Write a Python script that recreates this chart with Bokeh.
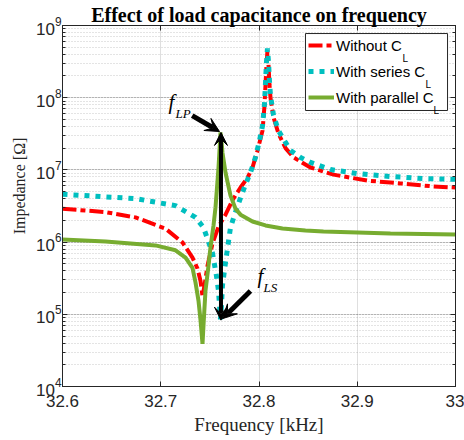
from bokeh.plotting import figure
from bokeh.models import (Range1d, FixedTicker, LogTicker, LinearAxis, LogAxis, Label,
                          Arrow, VeeHead, Legend, LegendItem, BoxAnnotation)
from bokeh.embed import file_html
from bokeh.resources import INLINE

# ---- data ----
freq_without = [32.6000, 32.6438, 32.6743, 32.7048, 32.7221, 32.7323, 32.7374, 32.7405, 32.7425,
                32.7445, 32.7476, 32.7527, 32.7588, 32.7659, 32.7730, 32.7812, 32.7883, 32.7934,
                32.7985, 32.8036, 32.8056, 32.8066, 32.8076, 32.8086, 32.8097, 32.8107, 32.8117,
                32.8148, 32.8198, 32.8270, 32.8351, 32.8524, 32.8758, 32.9104, 32.9440, 32.9776, 33.0000]
z_without = [2.9e6, 2.6e6, 2.2e6, 1.54e6, 9.9e5, 6.1e5, 4.3e5, 2.9e5, 1.77e5,
             2.5e5, 4.7e5, 9.6e5, 1.64e6, 2.4e6, 3.8e6, 5.7e6, 7.8e6, 1.08e7,
             1.86e7, 3.5e7, 7.8e7, 1.5e8, 2.8e8, 4.5e8, 2.8e8, 1.5e8, 1.0e8,
             5.3e7, 3.2e7, 2.0e7, 1.49e7, 1.08e7, 8.6e6, 7.1e6, 6.5e6, 5.9e6, 5.7e6]

freq_series = [32.6000, 32.6743, 32.7150, 32.7354, 32.7435, 32.7527, 32.7567, 32.7588, 32.7598,
               32.7608, 32.7618, 32.7628, 32.7659, 32.7710, 32.7761, 32.7812, 32.7863, 32.7913,
               32.7964, 32.8005, 32.8036, 32.8056, 32.8066, 32.8076, 32.8086, 32.8097, 32.8107,
               32.8117, 32.8148, 32.8198, 32.8270, 32.8321, 32.8422, 32.8524, 32.8728, 32.9003,
               32.9338, 32.9674, 33.0000]
z_series = [4.6e6, 4.0e6, 3.2e6, 2.2e6, 1.59e6, 7.0e5, 3.4e5, 2.1e5, 1.32e5,
            8.5e4, 1.32e5, 2.5e5, 5.2e5, 1.6e6, 2.6e6, 4.1e6, 6.3e6, 9.2e6,
            1.49e7, 2.55e7, 4.1e7, 8.3e7, 1.6e8, 3.1e8, 4.8e8, 3.1e8, 1.7e8,
            1.07e8, 5.7e7, 3.5e7, 2.4e7, 1.86e7, 1.49e7, 1.27e7, 1.01e7, 8.9e6,
            8.1e6, 7.6e6, 7.4e6]

freq_parallel = [32.6000, 32.6438, 32.6947, 32.7150, 32.7252, 32.7323, 32.7354, 32.7384, 32.7405,
                 32.7425, 32.7435, 32.7455, 32.7486, 32.7506, 32.7537, 32.7557, 32.7578, 32.7588,
                 32.7598, 32.7608, 32.7618, 32.7628, 32.7659, 32.7710, 32.7761, 32.7812, 32.7934,
                 32.8066, 32.8239, 32.8473, 32.8656, 32.9003, 32.9338, 33.0000]
z_parallel = [1.09e6, 1.02e6, 9.0e5, 7.7e5, 6.1e5, 4.4e5, 2.75e5, 1.55e5, 8.2e4,
              3.9e4, 7.0e4, 2.1e5, 4.7e5, 8.4e5, 1.7e6, 3.0e6, 7.1e6, 1.08e7,
              1.86e7, 3.3e7, 2.55e7, 1.74e7, 9.2e6, 4.4e6, 2.9e6, 2.4e6, 1.93e6,
              1.7e6, 1.54e6, 1.45e6, 1.4e6, 1.36e6, 1.32e6, 1.27e6]

series_names = ["Without C", "With series C", "With parallel C"]
x_ticks = [32.6, 32.7, 32.8, 32.9, 33.0]
x_tick_labels = ["32.6", "32.7", "32.8", "32.9", "33"]

# annotation points
f_marker = 32.7613
z_lp = 3.3e7
z_ls = 8.3e4

AX = "#262626"
RED = "#FF0000"
CYAN = "#00BFBF"
GREEN = "#77AC30"

p = figure(width=464, height=440, y_axis_type="log",
           x_range=Range1d(32.6, 33.0), y_range=Range1d(1e4, 1e9),
           output_backend="svg", toolbar_location=None, tools="",
           min_border_left=62, min_border_right=9, min_border_top=25, min_border_bottom=54,
           title="Effect of load capacitance on frequency")
p.background_fill_color = "white"
p.border_fill_color = "white"
p.outline_line_color = AX
p.outline_line_width = 1

p.title.align = "center"
p.title.text_font = "Liberation Serif"
p.title.text_font_style = "bold"
p.title.text_font_size = "20px"
p.title.text_color = "black"
p.title.standoff = 0
p.title.offset = 0

# grids
p.xgrid.grid_line_color = AX
p.xgrid.grid_line_alpha = 0.15
p.ygrid.grid_line_color = AX
p.ygrid.grid_line_alpha = 0.15
p.ygrid.minor_grid_line_color = AX
p.ygrid.minor_grid_line_alpha = 0.25
p.ygrid.minor_grid_line_dash = "1 2"

# axes
p.xaxis.ticker = FixedTicker(ticks=x_ticks, minor_ticks=[])
p.xaxis.major_label_overrides = dict(zip(x_ticks, x_tick_labels))
for ax in (p.xaxis[0], p.yaxis[0]):
    ax.axis_line_color = AX
    ax.major_tick_line_color = AX
    ax.minor_tick_line_color = AX
    ax.major_tick_in = 5
    ax.major_tick_out = 0
    ax.major_label_text_color = AX
    ax.major_label_text_font = "Liberation Sans"
    ax.major_label_text_font_size = "17px"
    ax.axis_label_text_font = "Liberation Serif"
    ax.axis_label_text_font_style = "normal"
    ax.axis_label_text_color = AX
p.xaxis.minor_tick_in = 0
p.xaxis.minor_tick_out = 0
p.xaxis.major_label_standoff = 8
p.xaxis.axis_label = "Frequency [kHz]"
p.xaxis.axis_label_text_font_size = "19px"
p.xaxis.axis_label_standoff = 4
p.yaxis.minor_tick_in = 3
p.yaxis.minor_tick_out = 0
p.yaxis.major_label_standoff = 1
# leading no-break spaces lift the rotated label toward the upper part of the axis, as in the reference
p.yaxis.axis_label = "\u00a0" * 10 + "Impedance [Ω]"
p.yaxis.axis_label_text_font_size = "16px"
p.yaxis.axis_label_standoff = 5

top = LinearAxis(ticker=FixedTicker(ticks=x_ticks, minor_ticks=[]),
                 major_label_text_font_size="1px", major_label_text_alpha=0,
                 major_tick_in=5, major_tick_out=0, minor_tick_in=0, minor_tick_out=0,
                 major_label_standoff=0, axis_line_color=AX, major_tick_line_color=AX)
right = LogAxis(ticker=LogTicker(), major_label_text_font_size="1px", major_label_text_alpha=0,
                major_tick_in=5, major_tick_out=0, minor_tick_in=3, minor_tick_out=0,
                major_label_standoff=0, axis_line_color=AX, major_tick_line_color=AX,
                minor_tick_line_color=AX)
p.add_layout(top, "above")
p.add_layout(right, "right")

# curves
r1 = p.line(freq_without, z_without, line_color=RED, line_width=4, line_dash="14 4 5 4")
r2 = p.line(freq_series, z_series, line_color=CYAN, line_width=5, line_dash="5 6")
r3 = p.line(freq_parallel, z_parallel, line_color=GREEN, line_width=4)

# annotations
p.add_layout(Arrow(x_start=f_marker, y_start=z_lp, x_end=f_marker, y_end=z_ls,
                   line_color="black", line_width=4,
                   start=VeeHead(size=13, fill_color="black", line_color="black"),
                   end=VeeHead(size=13, fill_color="black", line_color="black")))
p.add_layout(Arrow(x_start=32.7320, y_start=5.66e7, x_end=32.7598, y_end=3.4e7,
                   line_color="black", line_width=5,
                   end=VeeHead(size=14, fill_color="black", line_color="black")))
p.add_layout(Arrow(x_start=32.7913, y_start=2.1e5, x_end=32.7628, y_end=8.7e4,
                   line_color="black", line_width=5,
                   end=VeeHead(size=14, fill_color="black", line_color="black")))

def note(x, y, t, size):
    p.add_layout(Label(x=x, y=y, text=t, text_font="Liberation Serif", text_font_style="italic",
                       text_font_size=size, text_color="black", text_baseline="alphabetic"))

note(32.7079, 8.6e7, "f", "21px")
note(32.7150, 6.0e7, "LP", "13px")
note(32.7985, 3.4e5, "f", "21px")
note(32.8046, 2.35e5, "LS", "13px")

# legend frame (box) drawn separately so the subscripts can sit above it
p.add_layout(BoxAnnotation(left=32.8473, right=32.9919, top=7.74e8, bottom=6.65e7,
                           fill_color="white", fill_alpha=1, line_color=AX, line_width=1,
                           line_alpha=1))
legend = Legend(items=[LegendItem(label=series_names[0], renderers=[r1]),
                       LegendItem(label=series_names[1], renderers=[r2]),
                       LegendItem(label=series_names[2], renderers=[r3])],
                location=(243, 276), padding=3, spacing=6, margin=0,
                glyph_width=26, glyph_height=20, label_height=20, label_standoff=2,
                label_text_font="Liberation Sans", label_text_font_size="15px",
                label_text_color="black", border_line_alpha=0, background_fill_alpha=0)
p.add_layout(legend, "center")

for lx, ly in [(340, 328), (363, 302), (371, 276)]:
    p.add_layout(Label(x=lx, y=ly, x_units="screen", y_units="screen", text="L",
                       text_font="Liberation Sans", text_font_size="10px", text_color="black",
                       text_baseline="alphabetic"))

open("out.html", "w").write(file_html(p, INLINE))
